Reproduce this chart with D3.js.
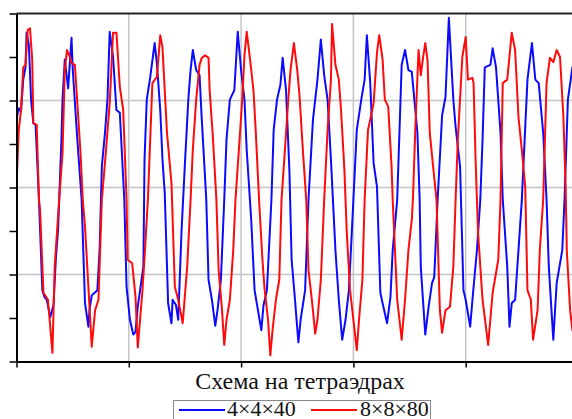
<!DOCTYPE html>
<html>
<head>
<meta charset="utf-8">
<script src="https://cdn.jsdelivr.net/npm/d3@7/dist/d3.min.js"></script>
<style>
  body { margin: 0; background: #fff; }
  svg { display: block; }
</style>
</head>
<body>
<script>
// readings: time (grid every 100) vs value (grid every 100)
var title = "Схема на тетраэдрах";
var seriesNames = ["4×4×40", "8×8×80"];
var seriesColors = ["#0a0aff", "#ff0a0a"];
var xTicks = [0, 100, 200, 300, 400, 500];
var yTicks = [0, 50, 100, 150, 200, 250, 300, 350, 400];
var xGrid = [100, 200, 300, 400];
var yGrid = [100, 200, 300];

var blue = [
  [0,278],[2,291],[4,287],[6,324],[8,338],[9,378],[11,364],[13,301],[15,274],[17,272],
  [20,186],[23,82],[25,74],[27,71],[30,51],[33,65],[35,117],[37,151],[40,255],[41,301],
  [43,347],[46,314],[49,372],[50,338],[53,278],[55,240],[58,186],[61,67],[64,40],[65,59],
  [67,76],[72,82],[74,128],[76,224],[79,266],[81,301],[83,379],[86,350],[89,289],[92,286],
  [96,186],[98,86],[101,48],[104,31],[106,34],[108,63],[113,109],[114,232],[116,301],[119,326],
  [123,366],[125,343],[128,289],[130,232],[132,194],[135,67],[138,44],[139,71],[142,65],[144,48],
  [147,151],[150,228],[153,301],[155,335],[157,358],[160,335],[163,329],[165,278],[169,186],[171,94],
  [174,71],[177,41],[179,59],[182,94],[185,186],[187,255],[190,301],[194,312],[197,379],[200,335],
  [203,301],[205,243],[209,163],[212,82],[215,59],[218,36],[220,65],[223,82],[227,186],[229,266],
  [232,301],[235,318],[237,349],[240,312],[243,220],[245,117],[248,71],[251,22],[253,48],[257,82],
  [260,186],[264,278],[268,324],[271,370],[274,329],[277,301],[280,232],[284,128],[287,71],[290,25],
  [293,48],[296,82],[300,186],[303,266],[307,301],[310,324],[312,375],[315,320],[318,228],[321,201],
  [324,79],[326,67],[330,44],[333,74],[335,128],[339,186],[343,341],[346,358],[349,335],[352,333],
  [357,263],[359,186],[360,109],[364,31],[367,63],[370,90],[372,97],[375,186],[379,283],[382,304],
  [385,395],[389,301],[391,270],[395,224],[398,82],[400,71],[404,40],[406,71],[410,128],[413,186],
  [415,255],[417,338],[422,341],[424,360],[427,338],[431,263],[433,186],[437,109],[439,40],[441,67],
  [444,71],[447,128],[450,186],[455,324],[459,366],[462,324],[465,320],[469,263],[472,186],[474,109],
  [478,25],[481,90],[486,128],[488,186],[491,301],[495,338],[500,350]
];

var red = [
  [0,201],[2,266],[4,289],[6,338],[8,341],[10,381],[12,383],[14,347],[15,274],[18,272],
  [20,186],[21,174],[24,79],[28,71],[32,10],[34,109],[38,186],[41,240],[43,335],[45,358],
  [47,352],[49,343],[52,341],[57,240],[59,186],[61,155],[65,63],[67,17],[70,59],[73,71],
  [76,186],[79,232],[83,297],[86,378],[89,378],[92,316],[95,289],[98,186],[99,117],[103,113],
  [106,74],[108,16],[112,79],[114,119],[117,186],[121,320],[125,327],[128,375],[130,361],[134,263],
  [138,205],[141,86],[144,71],[148,44],[152,109],[155,186],[157,243],[160,301],[163,341],[165,349],
  [168,352],[171,349],[172,312],[175,255],[178,186],[180,105],[183,59],[185,19],[187,48],[190,71],
  [193,128],[195,186],[198,243],[201,301],[203,352],[205,379],[208,347],[211,312],[213,266],[216,186],
  [219,117],[221,82],[224,48],[226,7],[228,36],[231,71],[234,94],[236,186],[239,243],[242,301],
  [244,335],[247,366],[250,335],[252,306],[255,243],[258,186],[260,105],[263,71],[266,32],[268,48],
  [271,94],[274,186],[277,266],[280,324],[281,388],[284,341],[287,324],[289,289],[292,220],[294,151],
  [297,82],[300,48],[303,13],[305,48],[308,94],[310,186],[313,266],[315,278],[318,297],[321,355],
  [323,375],[326,347],[328,301],[331,293],[334,224],[335,186],[339,71],[343,25],[346,71],[349,128],
  [352,163],[353,186],[355,263],[358,358],[360,329],[362,349],[364,366],[366,347],[368,263],[371,224],
  [374,186],[377,59],[379,33],[382,59],[386,63],[389,109],[391,186],[393,255],[397,350],[400,373],
  [402,324],[406,326],[407,320],[409,224],[411,148],[415,71],[420,19],[424,79],[429,117],[431,186],
  [433,320],[437,324],[441,378],[444,358],[447,281],[450,243],[453,201],[455,82],[458,71],[460,25],
  [464,59],[466,128],[469,186],[472,320],[475,349],[478,344],[481,358],[484,350],[487,281],[489,201],
  [490,128],[493,59],[495,36],[500,20]
];

var W = 572, H = 419;
var padLeft = 16.5, padTop = 13.5, axisY = 361.5;

var x = d3.scaleLinear().domain([0, 500]).range([padLeft, padLeft + 500 * 1.123]);
var y = d3.scaleLinear().domain([0, 400]).range([axisY, padTop]);

var svg = d3.select("body").append("svg")
    .attr("width", W)
    .attr("height", H);

svg.append("defs").append("clipPath")
    .attr("id", "plot")
    .append("rect")
    .attr("x", padLeft).attr("y", padTop)
    .attr("width", W - padLeft).attr("height", axisY - padTop);

// grid
svg.append("g").selectAll("line")
    .data(xGrid)
    .enter().append("line")
    .attr("x1", function (d) { return x(d); })
    .attr("x2", function (d) { return x(d); })
    .attr("y1", padTop).attr("y2", axisY)
    .attr("stroke", "#c4c4c4")
    .attr("stroke-width", 1.5);
svg.append("g").selectAll("line")
    .data(yGrid)
    .enter().append("line")
    .attr("x1", padLeft).attr("x2", W)
    .attr("y1", function (d) { return y(d); })
    .attr("y2", function (d) { return y(d); })
    .attr("stroke", "#c4c4c4")
    .attr("stroke-width", 1.5);

// top frame
svg.append("line")
    .attr("x1", padLeft).attr("x2", W)
    .attr("y1", padTop).attr("y2", padTop)
    .attr("stroke", "#222")
    .attr("stroke-width", 2);

// series
var line = d3.line()
    .x(function (d) { return x(d[0]); })
    .y(function (d) { return y(d[1]); });

var plot = svg.append("g").attr("clip-path", "url(#plot)");
[blue, red].forEach(function (s, i) {
    plot.append("path")
        .datum(s)
        .attr("fill", "none")
        .attr("stroke", seriesColors[i])
        .attr("stroke-width", 2)
        .attr("stroke-linejoin", "round")
        .attr("d", line);
});

// axes
var yAxis = d3.axisLeft(y).tickValues(yTicks).tickSize(7).tickSizeOuter(0).tickFormat("");
var xAxis = d3.axisBottom(x).tickValues(xTicks).tickSize(6).tickSizeOuter(0).tickFormat("");

var gy = svg.append("g")
    .attr("transform", "translate(" + padLeft + ",0)")
    .call(yAxis);
var gx = svg.append("g")
    .attr("transform", "translate(0," + axisY + ")")
    .call(xAxis);
[gx, gy].forEach(function (g) {
    g.select(".domain").attr("stroke", "#000").attr("stroke-width", 2);
    g.selectAll(".tick line").attr("stroke", "#000").attr("stroke-width", 1.5);
});

// title under the axis
svg.append("text")
    .attr("x", 300)
    .attr("y", 389)
    .attr("text-anchor", "middle")
    .style("font-family", "'Liberation Serif', 'DejaVu Serif', serif")
    .style("font-size", "24px")
    .attr("fill", "#111")
    .text(title);

// legend
var lg = svg.append("g");
lg.append("rect")
    .attr("x", 173.5).attr("y", 400.5)
    .attr("width", 257).attr("height", 30)
    .attr("fill", "#fff")
    .attr("stroke", "#888")
    .attr("stroke-width", 1);
var items = [{ x0: 179, tx: 227 }, { x0: 311, tx: 360 }];
items.forEach(function (it, i) {
    lg.append("line")
        .attr("x1", it.x0).attr("x2", it.x0 + 46)
        .attr("y1", 410).attr("y2", 410)
        .attr("stroke", seriesColors[i])
        .attr("stroke-width", 2);
    lg.append("text")
        .attr("x", it.tx)
        .attr("y", 416)
        .style("font-family", "'Liberation Serif', 'DejaVu Serif', serif")
        .style("font-size", "22px")
        .attr("fill", "#111")
        .text(seriesNames[i]);
});
</script>
</body>
</html>
